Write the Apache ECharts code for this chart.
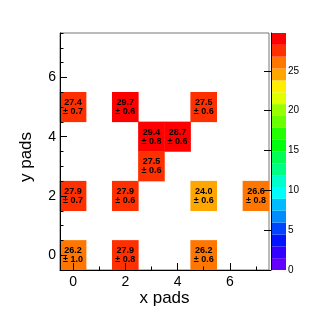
<!DOCTYPE html>
<html><head><meta charset="utf-8">
<script src="https://cdn.jsdelivr.net/npm/echarts@6/dist/echarts.min.js"></script>
<style>html,body{margin:0;padding:0;background:#fff}#c{width:327px;height:317px}</style>
</head><body><div id="c"></div>
<script>
// ---- data ----
const xCategories = ['0','1','2','3','4','5','6','7'];
const yCategories = ['0','1','2','3','4','5','6','7'];
const cellX     = [0, 2, 5, 3, 4, 3, 0, 2, 5, 7, 0, 2, 5];
const cellY     = [5, 5, 5, 4, 4, 3, 2, 2, 2, 2, 0, 0, 0];
const cellValue = [27.4, 29.7, 27.5, 29.4, 28.7, 27.5, 27.9, 27.9, 24.0, 26.6, 26.2, 27.9, 26.2];
const cellError = [0.7, 0.6, 0.6, 0.8, 0.6, 0.6, 0.7, 0.6, 0.6, 0.8, 1.0, 0.8, 0.6];
const zMin = 0;
const zMax = 29.75;
const colorbarTickLabels = [0, 5, 10, 15, 20, 25];
const palette = ['#6300ff','#3300ff','#0014ff','#0044ff','#008bff','#00bbff','#00fffc','#00ffcc',
  '#00ff85','#00ff55','#00ff0e','#22ff00','#69ff00','#99ff00','#e0ff00','#ffee00',
  '#ffa700','#ff7700','#ff3000','#ff0000'];

// ---- build ----
const nLevels = palette.length;
const step = (zMax - zMin) / nLevels;
const heatData = cellX.map((x, i) => [x, cellY[i], cellValue[i], cellError[i]]);
const pieces = palette.map((c, k) => k === nLevels - 1
  ? { gte: zMin + k * step, color: c }
  : { gte: zMin + k * step, lt: zMin + (k + 1) * step, color: c });
const levelData = palette.map((c, k) => [k]);

const FONT = 'Liberation Sans, Arial, Helvetica, sans-serif';

function catAxis(data, opts) {
  return Object.assign({
    type: 'category', data: data, gridIndex: 0, boundaryGap: true, z: 10,
    axisLine: { show: false },
    axisLabel: { show: false },
    splitLine: { show: false },
    axisTick: { show: false }
  }, opts);
}

const chart = echarts.init(document.getElementById('c'), null, { renderer: 'canvas' });
chart.setOption({
  animation: false,
  backgroundColor: '#fff',
  grid: [
    { left: 60, top: 33, width: 209, height: 237, show: true, borderColor: '#777', borderWidth: 1, backgroundColor: 'transparent' },
    { left: 271, top: 33, width: 15, height: 237 }
  ],
  xAxis: [
    catAxis(xCategories, {
      position: 'bottom',
      axisLine: { show: true, lineStyle: { color: '#000', width: 1 } },
      axisTick: { show: true, inside: true, alignWithLabel: true, interval: 1, length: 7, lineStyle: { color: '#000' } },
      axisLabel: { show: true, interval: 1, fontSize: 14, color: '#000', fontFamily: FONT, margin: 5 }
    }),
    catAxis(xCategories, {
      position: 'bottom',
      axisTick: { show: true, inside: true, alignWithLabel: true, interval: 0, length: 3.5, lineStyle: { color: '#000' } }
    }),
    { type: 'value', gridIndex: 1, min: 0, max: 1, show: false }
  ],
  yAxis: [
    catAxis(yCategories, {
      position: 'left',
      axisLine: { show: true, lineStyle: { color: '#000', width: 1 } },
      axisTick: { show: true, inside: true, alignWithLabel: true, interval: 1, length: 7, lineStyle: { color: '#000' } },
      axisLabel: { show: true, interval: 1, fontSize: 14, color: '#000', fontFamily: FONT, margin: 4 }
    }),
    catAxis(yCategories, {
      position: 'left',
      axisTick: { show: true, inside: true, alignWithLabel: true, interval: 0, length: 3.5, lineStyle: { color: '#000' } }
    }),
    catAxis(yCategories, {
      position: 'left',
      axisTick: { show: true, inside: true, alignWithLabel: false, interval: 0, length: 3.5, lineStyle: { color: '#000' } }
    }),
    {
      type: 'value', gridIndex: 1, min: zMin, max: zMax, interval: 5, position: 'right', z: 10,
      axisLine: { show: true, lineStyle: { color: '#000', width: 1 } },
      axisTick: { show: true, inside: true, length: 7, lineStyle: { color: '#000' } },
      splitLine: { show: false },
      axisLabel: {
        show: true, fontSize: 10, color: '#000', fontFamily: FONT, margin: 2, showMaxLabel: false,
        formatter: v => colorbarTickLabels.indexOf(v) >= 0 ? String(v) : ''
      }
    }
  ],
  visualMap: {
    type: 'piecewise', show: false, seriesIndex: 0, dimension: 2, pieces: pieces
  },
  series: [
    {
      type: 'heatmap', xAxisIndex: 0, yAxisIndex: 0, data: heatData,
      label: {
        show: true, color: '#000', fontSize: 9, fontWeight: 'bold', fontFamily: FONT,
        lineHeight: 9, align: 'center',
        formatter: p => p.data[2].toFixed(1) + '\n\u00b1 ' + p.data[3].toFixed(1)
      },
      emphasis: { disabled: true }
    },
    {
      type: 'custom', xAxisIndex: 2, yAxisIndex: 3, data: levelData, silent: true,
      renderItem: (params, api) => {
        const k = api.value(0);
        const p0 = api.coord([0, zMin + k * step]);
        const p1 = api.coord([1, zMin + (k + 1) * step]);
        return {
          type: 'rect',
          shape: { x: p0[0], y: p1[1], width: p1[0] - p0[0], height: p0[1] - p1[1] },
          style: { fill: palette[k] }
        };
      }
    }
  ],
  graphic: [
    { type: 'text', x: 164.5, y: 298, style: { text: 'x pads', font: '17px ' + FONT, fill: '#000', align: 'center', verticalAlign: 'middle' } },
    { type: 'text', x: 26, y: 157, rotation: Math.PI / 2, style: { text: 'y pads', font: '17px ' + FONT, fill: '#000', align: 'center', verticalAlign: 'middle' } }
  ]
});
</script>
</body></html>
